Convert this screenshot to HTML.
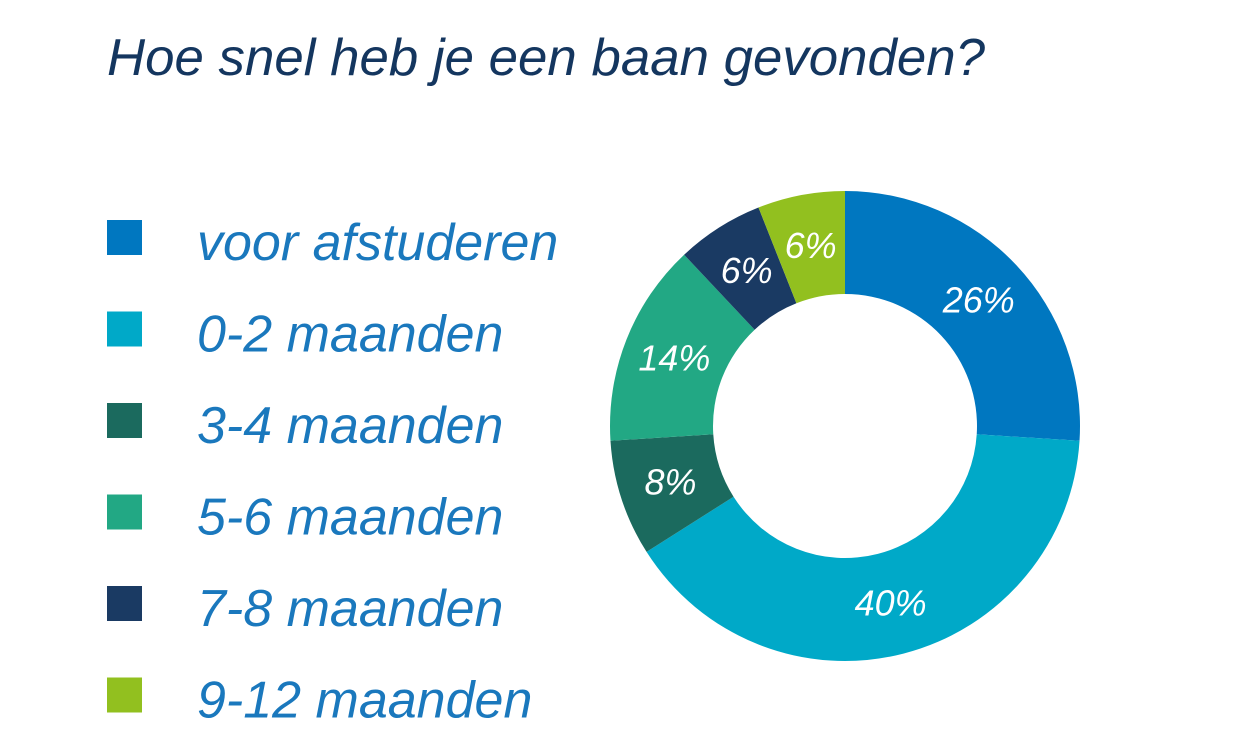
<!DOCTYPE html>
<html><head><meta charset="utf-8"><style>
html,body{margin:0;padding:0;background:#fff;}
svg{display:block;font-family:"Liberation Sans",sans-serif;}
</style></head><body>
<svg width="1245" height="750" viewBox="0 0 1245 750">
<text x="107" y="75" font-size="52" font-style="italic" fill="#14365f" textLength="878" lengthAdjust="spacingAndGlyphs">Hoe snel heb je een baan gevonden?</text>
<g id="legend"></g>
<g id="slices"></g>
<g id="labels"></g>
</svg>
<script>
const categories = ["voor afstuderen","0-2 maanden","3-4 maanden","5-6 maanden","7-8 maanden","9-12 maanden"];
const values = [26,40,8,14,6,6];
const valueLabels = ["26%","40%","8%","14%","6%","6%"];
const colors = ["#0077c0","#00a9c8","#1b6a5e","#22a884","#1a3a63","#92c01f"];
const NS="http://www.w3.org/2000/svg";
const cx=845, cy=426, R=235, r=132;
const total=values.reduce((a,b)=>a+b,0);
function pt(rad,f){const a=f*2*Math.PI;return [cx+rad*Math.sin(a),cy-rad*Math.cos(a)];}
let acc=0;
const sg=document.getElementById('slices'), lg=document.getElementById('labels'), leg=document.getElementById('legend');
values.forEach((v,i)=>{
  const f0=acc/total, f1=(acc+v)/total; acc+=v;
  const [x0,y0]=pt(R,f0),[x1,y1]=pt(R,f1),[x2,y2]=pt(r,f1),[x3,y3]=pt(r,f0);
  const large=(f1-f0)>0.5?1:0;
  const p=document.createElementNS(NS,'path');
  p.setAttribute('d',`M${x0},${y0}A${R},${R} 0 ${large} 1 ${x1},${y1}L${x2},${y2}A${r},${r} 0 ${large} 0 ${x3},${y3}Z`);
  p.setAttribute('fill',colors[i]);
  
  
  sg.appendChild(p);
  const [lx,ly]=pt((R+r)/2,(f0+f1)/2);
  const t=document.createElementNS(NS,'text');
  t.setAttribute('x',lx);t.setAttribute('y',ly+12);
  t.setAttribute('text-anchor','middle');t.setAttribute('font-size','36');
  t.setAttribute('font-style','italic');t.setAttribute('fill','#fff');
  t.textContent=valueLabels[i];
  
  
  lg.appendChild(t);
  const y=220+i*91.5;
  const sq=document.createElementNS(NS,'rect');
  sq.setAttribute('x',107);sq.setAttribute('y',y);sq.setAttribute('width',35);sq.setAttribute('height',35);
  sq.setAttribute('fill',colors[i]);
  
  
  leg.appendChild(sq);
  const lt=document.createElementNS(NS,'text');
  lt.setAttribute('x',197);lt.setAttribute('y',y+40);
  lt.setAttribute('font-size','52');lt.setAttribute('font-style','italic');lt.setAttribute('fill','#1a78bd');
  lt.textContent=categories[i];
  
  
  leg.appendChild(lt);
});
</script>
</body></html>
